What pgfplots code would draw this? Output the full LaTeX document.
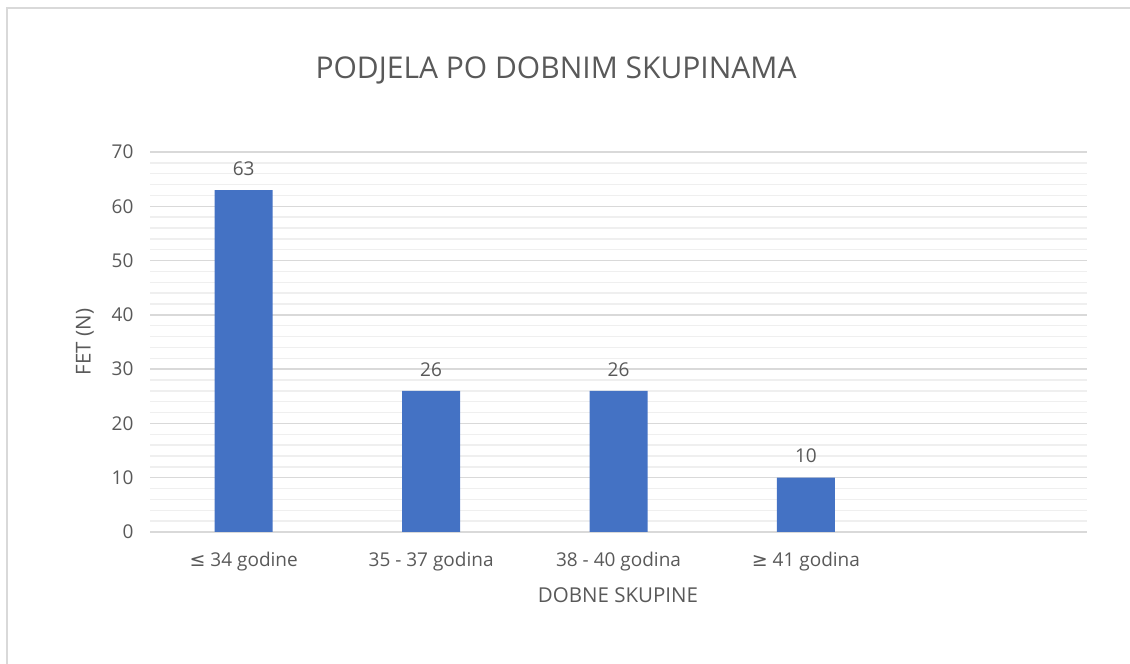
\documentclass[border=0pt]{standalone}
\usepackage{pgfplots}
\pgfplotsset{compat=1.18}
\usepackage{fontspec}
\setmainfont{Open Sans}
\newfontfamily\symfont{DejaVu Sans}
\definecolor{barc}{HTML}{4472C4}
\definecolor{txt}{HTML}{595959}
\definecolor{majorc}{HTML}{D9D9D9}
\definecolor{minorc}{HTML}{EFEFEF}
\begin{document}
\begin{tikzpicture}[x=1pt,y=1pt]
\path[use as bounding box] (0,0) rectangle (1130,664);
\draw[majorc, line width=2pt] (7,0) -- (7,656) -- (1130,656);
\node[txt, font=\fontsize{30}{34}\selectfont] at (556,594) {PODJELA PO DOBNIM SKUPINAMA};
\node[txt, font=\fontsize{20.5}{24}\selectfont] at (618,69) {DOBNE SKUPINE};
\node[txt, font=\fontsize{20.5}{24}\selectfont, rotate=90] at (85,322) {FET (N)};
\begin{axis}[at={(150pt,132pt)}, anchor=south west, width=937pt, height=380pt, scale only axis,
  xmin=-0.5, xmax=4.5, ymin=0, ymax=70,
  ytick={0,10,...,70}, minor y tick num=4,
  xtick={0,1,2,3},
  xticklabels={{{\symfont ≤} 34 godine},{35 - 37 godina},{38 - 40 godina},{{\symfont ≥} 41 godina}},
  axis line style={draw=none},
  major tick length=0pt, minor tick length=0pt,
  ymajorgrids, yminorgrids,
  major grid style={majorc, line width=1.3pt},
  minor grid style={minorc, line width=1.3pt},
  /pgf/number format/assume math mode=true,
  ticklabel style={txt, font=\fontsize{19}{22}\selectfont},
  yticklabel style={xshift=-13pt},
  xticklabel style={yshift=-17pt},
  clip=false,
  ybar, bar width=58pt,
  nodes near coords,
  every node near coord/.append style={txt, font=\fontsize{19}{22}\selectfont, yshift=11pt},
]
\addplot[fill=barc, draw=none] coordinates {(0,63) (1,26) (2,26) (3,10)};
\end{axis}
\end{tikzpicture}
\end{document}
